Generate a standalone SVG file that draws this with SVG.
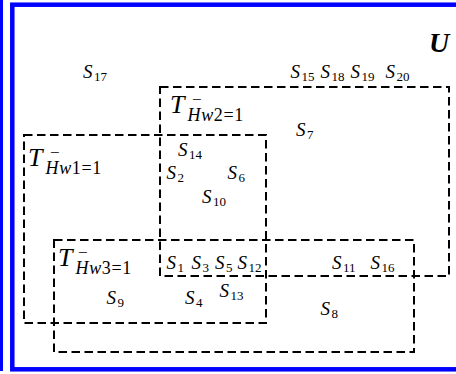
<svg xmlns="http://www.w3.org/2000/svg" width="456" height="374" viewBox="0 0 456 374">
<style>
.frame{fill:none;stroke:#0000ff;stroke-width:4.5}
.set{fill:none;stroke:#000;stroke-width:2;stroke-dasharray:8.5 4.5}
.s{font-family:"Liberation Serif",serif;font-style:italic;font-size:19px;fill:#000}
.sub{font-style:normal;font-size:13px}
.t{font-family:"Liberation Serif",serif;font-style:italic;font-size:26px;fill:#000}
.tsub{font-style:italic;font-size:18px;letter-spacing:0.6px}
.up{font-style:normal}
.minus{font-style:normal;font-size:17px}
.u{font-family:"Liberation Serif",serif;font-style:italic;font-weight:bold;font-size:28px;fill:#000}
</style>
<rect width="456" height="374" fill="#fff"/>
<g id="universe">
<rect x="0" y="0" width="3" height="371" fill="#0000ff"/>
<rect class="frame" x="12.3" y="4.7" width="460" height="364.6"/>
<text class="u" x="429" y="52">U</text>
</g>
<g id="T2">
<rect class="set" x="160" y="87" width="289" height="189"/>
<text class="t" x="170" y="113">T<tspan class="minus" dx="7.5" dy="-8.5">−</tspan><tspan class="tsub" dx="-14" dy="16">Hw<tspan class="up">2=1</tspan></tspan></text>
</g>
<g id="T1">
<rect class="set" x="24" y="135" width="242" height="188"/>
<text class="t" x="28" y="166">T<tspan class="minus" dx="7.5" dy="-8.5">−</tspan><tspan class="tsub" dx="-14" dy="16">Hw<tspan class="up">1=1</tspan></tspan></text>
</g>
<g id="T3">
<rect class="set" x="54" y="240" width="360" height="112"/>
<text class="t" x="58" y="266">T<tspan class="minus" dx="5.5" dy="-8.5">−</tspan><tspan class="tsub" dx="-12" dy="16">Hw<tspan class="up">3=1</tspan></tspan></text>
</g>
<g id="elements">
<text id="S17" class="s" x="83" y="78">S<tspan class="sub" dx="1.5" dy="3">17</tspan></text>
<text id="S15" class="s" x="290.5" y="78">S<tspan class="sub" dx="1.5" dy="3">15</tspan></text>
<text id="S18" class="s" x="320.5" y="78">S<tspan class="sub" dx="1.5" dy="3">18</tspan></text>
<text id="S19" class="s" x="350.5" y="78">S<tspan class="sub" dx="1.5" dy="3">19</tspan></text>
<text id="S20" class="s" x="385.5" y="78">S<tspan class="sub" dx="1.5" dy="3">20</tspan></text>
<text id="S7" class="s" x="296" y="136">S<tspan class="sub" dx="1.5" dy="3">7</tspan></text>
<text id="S14" class="s" x="178" y="155.5">S<tspan class="sub" dx="1.5" dy="3">14</tspan></text>
<text id="S2" class="s" x="166.5" y="179">S<tspan class="sub" dx="1.5" dy="3">2</tspan></text>
<text id="S6" class="s" x="227.5" y="179">S<tspan class="sub" dx="1.5" dy="3">6</tspan></text>
<text id="S10" class="s" x="202" y="202.5">S<tspan class="sub" dx="1.5" dy="3">10</tspan></text>
<text id="S1" class="s" x="166.5" y="268.5">S<tspan class="sub" dx="1.5" dy="3">1</tspan></text>
<text id="S3" class="s" x="191.5" y="268.5">S<tspan class="sub" dx="1.5" dy="3">3</tspan></text>
<text id="S5" class="s" x="215" y="268.5">S<tspan class="sub" dx="1.5" dy="3">5</tspan></text>
<text id="S12" class="s" x="237.5" y="268.5">S<tspan class="sub" dx="1.5" dy="3">12</tspan></text>
<text id="S11" class="s" x="332" y="268.5">S<tspan class="sub" dx="1.5" dy="3">11</tspan></text>
<text id="S16" class="s" x="370.5" y="268.5">S<tspan class="sub" dx="1.5" dy="3">16</tspan></text>
<text id="S9" class="s" x="106.5" y="303.5">S<tspan class="sub" dx="1.5" dy="3">9</tspan></text>
<text id="S4" class="s" x="185" y="303.5">S<tspan class="sub" dx="1.5" dy="3">4</tspan></text>
<text id="S13" class="s" x="219.5" y="296.5">S<tspan class="sub" dx="1.5" dy="3">13</tspan></text>
<text id="S8" class="s" x="320.5" y="315">S<tspan class="sub" dx="1.5" dy="3">8</tspan></text>
</g>
</svg>
